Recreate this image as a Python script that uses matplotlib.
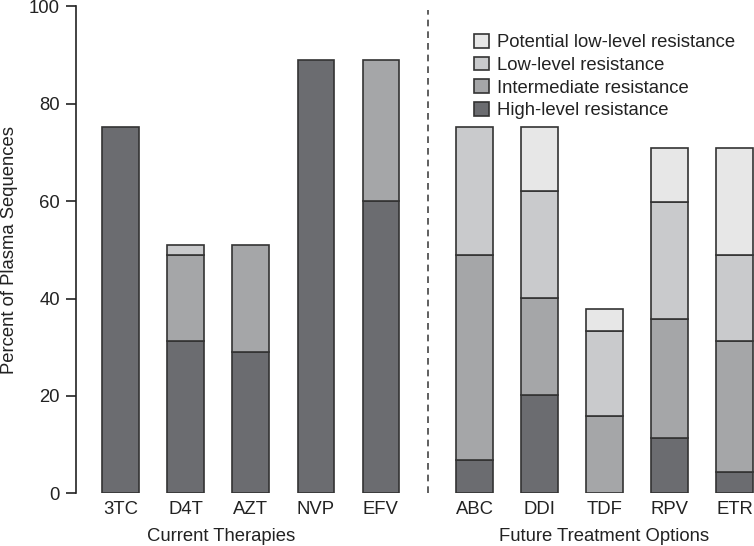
import matplotlib
matplotlib.use("Agg")
import matplotlib.pyplot as plt
import numpy as np

plt.rcParams['font.family'] = ['Liberation Sans', 'DejaVu Sans']

current = ["3TC", "D4T", "AZT", "NVP", "EFV"]
future = ["ABC", "DDI", "TDF", "RPV", "ETR"]
drugs = current + future

high = [75.3, 31.2, 29.0, 88.9, 60.0, 6.9, 20.2, 0.0, 11.4, 4.4]
intermediate = [0.0, 17.7, 22.0, 0.0, 28.9, 42.0, 19.9, 15.8, 24.3, 26.8]
low = [0.0, 2.1, 0.0, 0.0, 0.0, 26.4, 22.0, 17.6, 24.2, 17.7]
potential = [0.0, 0.0, 0.0, 0.0, 0.0, 0.0, 13.2, 4.5, 11.0, 22.0]

series = [
    ("High-level resistance", high, "#6b6c70"),
    ("Intermediate resistance", intermediate, "#a5a6a8"),
    ("Low-level resistance", low, "#c9cacc"),
    ("Potential low-level resistance", potential, "#e7e7e7"),
]

FS = 13.3
TXT = "#222222"

gap = 1.44
x = np.array([0, 1, 2, 3, 4] + [4 + gap + i for i in range(5)])

fig = plt.figure(figsize=(7.54, 5.46), dpi=100)
y0, y100 = 493.3, 6.3
ax = fig.add_axes([76 / 754, 1 - y0 / 546, 1 - 76 / 754, (y0 - y100) / 546])

bottom = np.zeros(len(drugs))
handles = {}
for name, vals, col in series:
    vals = np.array(vals)
    mask = vals > 0
    b = ax.bar(x[mask], vals[mask], width=0.565, bottom=bottom[mask], color=col,
               edgecolor="#333333", linewidth=1.2, label=name)
    handles[name] = b
    bottom += vals

ax.set_xlim(-0.69, 9.74)
ax.set_ylim(0, 100)
ax.set_yticks([0, 20, 40, 60, 80, 100])
ax.spines['top'].set_visible(False)
ax.spines['right'].set_visible(False)
ax.spines['bottom'].set_visible(False)
ax.spines['left'].set_linewidth(1.2)
ax.spines['left'].set_color(TXT)
ax.tick_params(axis='y', direction='out', length=7.5, width=1.2, labelsize=FS, colors=TXT, pad=4)
ax.set_xticks(x)
ax.set_xticklabels(drugs)
ax.tick_params(axis='x', length=0, labelsize=FS, pad=5.5, colors=TXT)
ax.set_ylabel("Percent of Plasma Sequences", fontsize=FS, color=TXT, labelpad=8)

sep = (x[4] + x[5]) / 2
ax.plot([sep, sep], [0, 99.2], linestyle=(0, (4, 3)), color="#444444", linewidth=1.2, clip_on=False)

ax.text(1.54, -8.8, "Current Therapies", ha="center", va="center", fontsize=FS, color=TXT)
ax.text(x[7], -8.8, "Future Treatment Options", ha="center", va="center", fontsize=FS, color=TXT)

order = ["Potential low-level resistance", "Low-level resistance", "Intermediate resistance", "High-level resistance"]
leg = ax.legend([handles[n] for n in order], order, loc="upper left",
                bbox_to_anchor=(474 / 754, 1 - 34 / 546), bbox_transform=fig.transFigure,
                frameon=False, fontsize=FS, handlelength=0.8, handleheight=0.75,
                handletextpad=0.45, labelspacing=0.3, borderpad=0, borderaxespad=0)
for t in leg.get_texts():
    t.set_color(TXT)

fig.savefig("out.png", dpi=100)
